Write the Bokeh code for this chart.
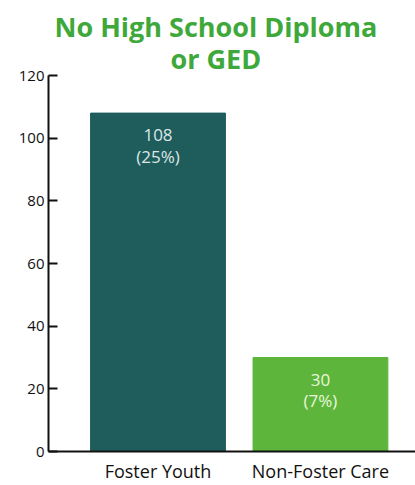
from bokeh.plotting import figure
from bokeh.models import Range1d, FixedTicker, Title, ColumnDataSource
from bokeh.core.properties import value
from bokeh.embed import file_html
from bokeh.resources import INLINE

title_lines = ["No High School Diploma", "or GED"]
categories = ["Foster Youth", "Non-Foster Care"]
counts = [108, 30]
percents = ["25%", "7%"]
bar_colors = ["#1f5c5c", "#5db63b"]
label_colors = ["#dce8e6", "#eaf6dc"]
y_ticks = [0, 20, 40, 60, 80, 100, 120]

xs = list(range(len(categories)))
labels = [f"{c}\n({p})" for c, p in zip(counts, percents)]
src = ColumnDataSource(dict(x=xs, top=counts, color=bar_colors, label=labels, lcolor=label_colors))

FONT = "Open Sans"

p = figure(width=415, height=485, output_backend="svg", toolbar_location=None,
           x_range=Range1d(-0.674, 1.585), y_range=Range1d(0, 120),
           min_border_left=48, min_border_right=0, min_border_bottom=33, min_border_top=75)
p.title = None
# add bottom line first (closest to plot), then the top line
title_style = [(-2, 122), (-13, 6)]  # (standoff, left offset) per line, bottom line first
for line, (standoff, off) in zip(reversed(title_lines), title_style):
    p.add_layout(Title(text=line, align="left", text_font=FONT, text_font_size="27px",
                       text_font_style="bold", text_color="#3ea83a",
                       offset=off, standoff=standoff), "above")

p.vbar(x="x", top="top", bottom=0, width=0.83, color="color", source=src)
p.text(x="x", y="top", text="label", source=src, text_color="lcolor",
       text_align="center", text_baseline="top", y_offset=10,
       text_font=value(FONT), text_font_size="17px", text_line_height=0.95)

p.xgrid.visible = False
p.ygrid.visible = False
p.outline_line_color = None
p.background_fill_color = "white"
p.border_fill_color = "white"

p.yaxis.ticker = FixedTicker(ticks=y_ticks)
p.yaxis.major_tick_in = 9
p.yaxis.major_tick_out = 0
p.yaxis.minor_tick_line_color = None
p.yaxis.axis_line_width = 2
p.yaxis.major_tick_line_width = 2
p.yaxis.axis_line_color = "#111111"
p.yaxis.major_tick_line_color = "#111111"
p.yaxis.major_label_text_font = FONT
p.yaxis.major_label_text_font_size = "15px"
p.yaxis.major_label_text_color = "#111111"
p.yaxis.major_label_standoff = 4

p.xaxis.ticker = FixedTicker(ticks=xs)
p.xaxis.major_label_overrides = {i: c for i, c in zip(xs, categories)}
p.xaxis.major_tick_in = 0
p.xaxis.major_tick_out = 0
p.xaxis.minor_tick_line_color = None
p.xaxis.axis_line_width = 2
p.xaxis.axis_line_color = "#111111"
p.xaxis.major_label_text_font = FONT
p.xaxis.major_label_text_font_size = "18px"
p.xaxis.major_label_text_color = "#111111"
p.xaxis.major_label_standoff = 7

open("out.html", "w").write(file_html(p, INLINE))
